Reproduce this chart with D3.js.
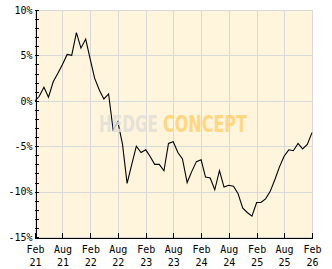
<!DOCTYPE html>
<html>
<head>
<meta charset="utf-8" />
<title>Performance</title>
<style>
    body { margin: 0; background: #fff; }
    text { font-family: "DejaVu Sans Mono", monospace; font-size: 10px; fill: #000; }
</style>
</head>
<body>
<div id="container"></div>
<script src="https://cdn.jsdelivr.net/npm/d3@7"></script>
<script>
    // monthly performance in %, Feb 2021 .. Feb 2026
    const values = [0.0, 0.5, 1.5, 0.4, 2.1, 3.0, 4.0, 5.1, 5.0, 7.5,
        5.8, 6.8, 4.5, 2.5, 1.2, 0.2, 0.75, -3.2, -2.3, -4.8,
        -9.1, -7.0, -5.0, -5.7, -5.4, -6.1, -7.0, -7.0, -7.7, -4.7,
        -4.5, -5.7, -6.4, -9.0, -7.8, -6.7, -6.5, -8.4, -8.5, -9.8,
        -7.7, -9.5, -9.3, -9.4, -10.2, -11.8, -12.3, -12.7, -11.2, -11.2,
        -10.8, -10.0, -8.7, -7.3, -6.1, -5.4, -5.5, -4.7, -5.3, -4.8, -3.5]
    const months = d3.timeMonth.range(new Date(2021, 1, 1), new Date(2026, 2, 1))
    const xTicks = ['Feb 21', 'Aug 21', 'Feb 22', 'Aug 22', 'Feb 23', 'Aug 23', 'Feb 24', 'Aug 24', 'Feb 25', 'Aug 25', 'Feb 26']
    const yTicks = [-15, -10, -5, 0, 5, 10]

    const W = 332, H = 269
    const m = { left: 35, right: 312, top: 10, bottom: 237 }

    const parseTick = d3.timeParse('%b %y')
    const x = d3.scaleTime().domain([parseTick('Feb 21'), parseTick('Feb 26')]).range([m.left, m.right])
    const y = d3.scaleLinear().domain([-15, 10]).range([m.bottom, m.top])

    const svg = d3.select('#container').append('svg').attr('width', W).attr('height', H)

    svg.append('rect').attr('x', m.left).attr('y', m.top).attr('width', m.right - m.left).attr('height', m.bottom - m.top)
        .attr('fill', '#fff5dc')

    // grid
    const grid = svg.append('g').attr('stroke', '#d9d9d9').attr('stroke-width', 1).attr('shape-rendering', 'crispEdges')
    grid.selectAll('.gy').data(yTicks).join('line')
        .attr('x1', m.left).attr('x2', m.right).attr('y1', d => Math.round(y(d)) + 0.5).attr('y2', d => Math.round(y(d)) + 0.5)
    grid.selectAll('.gx').data(xTicks).join('line')
        .attr('x1', d => Math.round(x(parseTick(d))) + 0.5).attr('x2', d => Math.round(x(parseTick(d))) + 0.5)
        .attr('y1', m.top).attr('y2', m.bottom)

    // line
    const line = d3.line().x((_, i) => x(months[i])).y(d => y(d))
    svg.append('path').attr('d', line(values)).attr('fill', 'none').attr('stroke', '#000').attr('stroke-width', 1.1)

    // watermark, squeezed to fit with a transform
    const wmFont = '"DejaVu Sans Condensed", "DejaVu Sans", sans-serif'
    function mark(str, x0, w, color, op) {
        const g = svg.append('g')
        const t = g.append('text').attr('x', 0).attr('y', 0).text(str)
            .style('font-family', wmFont).style('font-weight', 'bold').style('font-size', '23px')
            .style('fill', color).attr('opacity', op)
        const nat = t.node().getComputedTextLength()
        g.attr('transform', `translate(${x0},132) scale(${w / nat},1)`)
    }
    mark('HEDGE', 99, 59, '#e2dfd8', 0.85)
    mark('CONCEPT', 163, 84, '#ffd478', 0.9)

    // y axis
    const axisY = d3.axisLeft(y).tickValues(yTicks).tickSize(0).tickPadding(3).tickFormat(d => d + '%')
    const gy = svg.append('g').attr('transform', `translate(${m.left + 0.5},0)`).call(axisY)
    gy.select('.domain').attr('stroke', '#000').attr('shape-rendering', 'crispEdges')
    gy.selectAll('text').style('font-family', '"DejaVu Sans Mono", monospace').style('font-size', '10px')
    svg.append('g').attr('shape-rendering', 'crispEdges').selectAll('line').data(d3.range(-15, 11))
        .join('line').attr('x1', m.left).attr('x2', m.left + 4)
        .attr('y1', d => Math.round(y(d)) + 0.5).attr('y2', d => Math.round(y(d)) + 0.5).attr('stroke', '#000')

    // x axis
    const axisX = d3.axisBottom(x).tickValues(xTicks.map(parseTick)).tickSize(-5).tickPadding(9).tickFormat(() => '')
    const gx = svg.append('g').attr('transform', `translate(0,${m.bottom + 0.5})`).call(axisX)
    gx.select('.domain').attr('stroke', '#000').attr('shape-rendering', 'crispEdges')
    gx.selectAll('line').attr('stroke', '#000').attr('shape-rendering', 'crispEdges')
    gx.selectAll('.tick').each(function (d, i) {
        const parts = xTicks[i].split(' ')
        const t = d3.select(this).select('text').attr('y', 0).attr('dy', 0)
        t.append('tspan').attr('x', 0).attr('y', 15).text(parts[0])
        t.append('tspan').attr('x', 0).attr('y', 28).text(parts[1])
    })
    gx.selectAll('text').style('font-family', '"DejaVu Sans Mono", monospace').style('font-size', '10px')
</script>
</body>
</html>
